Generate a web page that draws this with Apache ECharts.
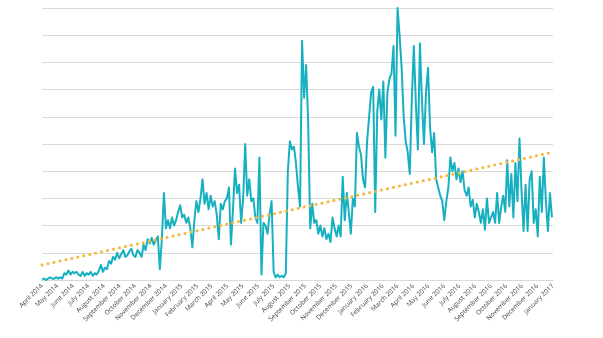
<!DOCTYPE html>
<html>
<head>
<meta charset="utf-8">
<script src="https://cdn.jsdelivr.net/npm/echarts@6/dist/echarts.min.js"></script>
<style>html,body{margin:0;padding:0;background:#fff}#c{width:603px;height:338px}</style>
</head>
<body>
<div id="c"></div>
<script>
// Series start date and sampling step (days)
var startDate = [2014, 3, 1]; // 1 April 2014 (month is 0-based)
var stepDays = 4;
var axisEnd = [2017, 0, 1];

// Month tick labels
var monthLabels = ["April 2014","May 2014","June 2014","July 2014","August 2014","September 2014","October 2014","November 2014","December 2014",
"January 2015","February 2015","March 2015","April 2015","May 2015","June 2015","July 2015","August 2015","September 2015","October 2015","November 2015","December 2015",
"January 2016","February 2016","March 2016","April 2016","May 2016","June 2016","July 2016","August 2016","September 2016","October 2016","November 2016","December 2016","January 2017"];

// Values (one every 4 days)
var values = [
0.05,0.05,0.0,0.05,0.1,0.05,0.05,0.1,0.05,0.1,0.05,
0.25,0.2,0.35,0.2,0.3,0.25,0.3,0.2,0.15,0.3,0.15,0.25,0.2,0.3,0.15,0.25,0.2,0.35,
0.55,0.3,0.45,0.4,0.7,0.6,0.85,0.75,1.0,0.8,0.95,1.1,0.85,0.9,1.05,1.15,0.9,0.85,1.1,1.0,0.85,1.3,1.1,1.5,1.35,1.55,1.3,1.45,1.6,0.4,1.5,
3.2,1.9,2.2,1.9,2.3,2.0,2.2,2.5,2.75,2.3,2.4,2.1,2.3,1.9,1.2,2.2,2.9,2.5,3.0,3.7,2.8,3.2,2.6,3.1,2.7,2.9,2.4,1.5,2.8,2.6,2.9,3.0,3.4,
1.3,2.6,4.1,3.2,3.5,2.1,3.0,5.0,3.1,3.7,2.9,3.0,2.3,2.1,4.5,0.2,2.1,2.0,1.7,2.4,2.9,0.3,0.1,0.2,0.1,0.15,0.1,0.25,
4.0,5.1,4.8,4.9,4.3,3.4,2.7,8.8,6.7,7.9,5.8,1.9,
2.8,2.1,2.2,1.7,2.0,1.6,1.9,1.5,1.7,1.4,2.3,1.9,1.6,2.0,1.6,3.8,2.2,3.2,2.5,1.7,3.0,2.7,5.4,4.9,4.6,3.7,3.4,
5.1,6.0,6.9,7.1,2.5,6.2,7.0,5.9,7.3,4.5,6.9,7.4,7.6,8.6,5.3,10.0,9.0,7.8,6.0,5.1,4.7,3.9,6.6,8.6,6.5,4.8,8.7,6.6,5.0,6.9,7.8,5.6,4.7,5.4,
3.7,3.4,3.1,2.9,2.2,2.9,3.4,4.5,4.0,4.3,3.7,4.1,3.6,4.0,3.3,3.1,3.4,2.7,2.95,2.3,2.8,2.5,2.1,2.6,1.85,3.0,2.1,2.3,2.5,2.1,3.2,2.1,2.7,3.1,2.5,
4.4,2.7,3.9,2.3,4.3,2.9,5.2,3.3,1.8,3.5,1.8,3.7,4.0,2.1,2.6,1.6,3.8,2.5,4.5,2.9,1.8,3.2,2.3
];

// Linear trend line end values
var trendStart = 0.55;
var trendEnd = 4.7;

var DAY = 86400000;
var t0 = Date.UTC(startDate[0], startDate[1], startDate[2]);
var tEnd = Date.UTC(axisEnd[0], axisEnd[1], axisEnd[2]);
var axisMax = Math.round((tEnd - t0) / DAY);

var lineData = values.map(function (v, i) { return [i * stepDays, v]; });

var tickDays = [];
var labelByDay = {};
monthLabels.forEach(function (lab, k) {
  var m = startDate[1] + k;
  var d = Math.round((Date.UTC(startDate[0], m, 1) - t0) / DAY);
  tickDays.push(d);
  labelByDay[d] = lab;
});

var chart = echarts.init(document.getElementById('c'), null, {renderer: 'canvas'});
chart.setOption({
  backgroundColor: '#ffffff',
  animation: false,
  grid: {left: 42, right: 50, top: 8, bottom: 58, containLabel: false},
  xAxis: {
    type: 'value', min: 0, max: axisMax,
    axisLine: {show: true, lineStyle: {color: '#d9d9d9', width: 1}},
    axisTick: {show: false},
    splitLine: {show: false},
    axisLabel: {
      customValues: tickDays,
      rotate: 45,
      margin: 5,
      fontSize: 6.5,
      fontFamily: 'Open Sans',
      color: '#404040',
      formatter: function (v) { return labelByDay[v] || ''; }
    }
  },
  yAxis: {
    type: 'value', min: 0, max: 10, interval: 1,
    axisLine: {show: false}, axisTick: {show: false}, axisLabel: {show: false},
    splitLine: {show: true, lineStyle: {color: '#d9d9d9', width: 1}}
  },
  series: [
    {
      type: 'line', data: lineData, showSymbol: false, symbol: 'none',
      lineStyle: {color: '#17b0c1', width: 2, join: 'round'},
      z: 2
    },
    {
      type: 'line', data: [[0, trendStart], [axisMax, trendEnd]], showSymbol: false, symbol: 'none',
      lineStyle: {color: '#f4b940', width: 3, type: [0.1, 6], cap: 'round'},
      z: 3
    }
  ]
});
</script>
</body>
</html>
